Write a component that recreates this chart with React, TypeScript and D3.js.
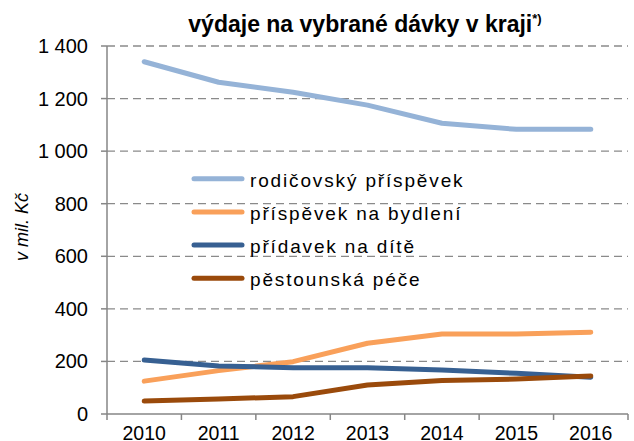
import React from "react";
import * as d3 from "d3";

const years = ["2010", "2011", "2012", "2013", "2014", "2015", "2016"];
const rodicovsky = [1340, 1262, 1224, 1175, 1106, 1083, 1083];
const bydleni = [125, 165, 199, 269, 304, 304, 311];
const pridavek = [205, 183, 176, 176, 167, 155, 140];
const pestounska = [49, 57, 66, 110, 127, 133, 145];
const seriesNames = ["rodičovský příspěvek", "příspěvek na bydlení", "přídavek na dítě", "pěstounská péče"];
const seriesColors = ["#95b3d7", "#f9a05a", "#376092", "#9a4a0b"];
const yTicks = [0, 200, 400, 600, 800, 1000, 1200, 1400];

const W = 634, H = 441;
const m = { left: 107, right: 628, top: 46, bottom: 414 };

export default function App() {
  const x = d3.scaleBand().domain(years).range([m.left, m.right]);
  const y = d3.scaleLinear().domain([0, 1400]).range([m.bottom, m.top]);
  const fmt = (v: number) => d3.format(",")(v).replace(/,/g, " ");
  const line = d3.line<number>().x((_, i) => (x(years[i]) as number) + x.bandwidth() / 2).y((v) => y(v));
  const data = [rodicovsky, bydleni, pridavek, pestounska];
  const font = "Liberation Sans, Arial, sans-serif";
  const edges = d3.range(years.length + 1).map((i) => m.left + i * x.bandwidth());
  return (
    <svg width={W} height={H} style={{ position: "absolute", left: 0, top: 0 }} fontFamily={font}>
      <rect width={W} height={H} fill="#fff" />
      <text x={365} y={32} textAnchor="middle" fontSize={23} fontWeight="bold">
        výdaje na vybrané dávky v kraji<tspan fontSize={13} dy={-9}>*)</tspan>
      </text>
      {yTicks.slice(1).map((t) => (
        <line key={t} x1={m.left} x2={m.right} y1={y(t)} y2={y(t)} stroke="#8a8a8a" strokeWidth={1.3} strokeDasharray="8 5" />
      ))}
      <line x1={m.left} x2={m.left} y1={m.top} y2={m.bottom} stroke="#868686" strokeWidth={1.5} />
      <line x1={m.left} x2={m.right} y1={m.bottom} y2={m.bottom} stroke="#868686" strokeWidth={1.5} />
      {yTicks.map((t) => (
        <g key={t}>
          <line x1={m.left - 6} x2={m.left} y1={y(t)} y2={y(t)} stroke="#868686" strokeWidth={1.5} />
          <text x={88} y={y(t) + 7} textAnchor="end" fontSize={20}>{fmt(t)}</text>
        </g>
      ))}
      {edges.map((e, i) => (
        <line key={i} x1={e} x2={e} y1={m.bottom} y2={m.bottom + 6} stroke="#868686" strokeWidth={1.5} />
      ))}
      {years.map((yr) => (
        <text key={yr} x={(x(yr) as number) + x.bandwidth() / 2} y={439.5} textAnchor="middle" fontSize={19.5}>{yr}</text>
      ))}
      <text transform={`translate(28,227) rotate(-90)`} textAnchor="middle" fontSize={18} fontStyle="italic">v mil. Kč</text>
      {data.map((d, i) => (
        <path key={i} d={line(d) as string} fill="none" stroke={seriesColors[i]} strokeWidth={5} strokeLinecap="round" strokeLinejoin="round" />
      ))}
      {seriesNames.map((n, i) => (
        <g key={n} transform={`translate(0,${178.7 + i * 33.2})`}>
          <line x1={194} x2={242} y1={0} y2={0} stroke={seriesColors[i]} strokeWidth={5} strokeLinecap="round" />
          <text x={250} y={8} fontSize={19} letterSpacing={1.85}>{n}</text>
        </g>
      ))}
    </svg>
  );
}
